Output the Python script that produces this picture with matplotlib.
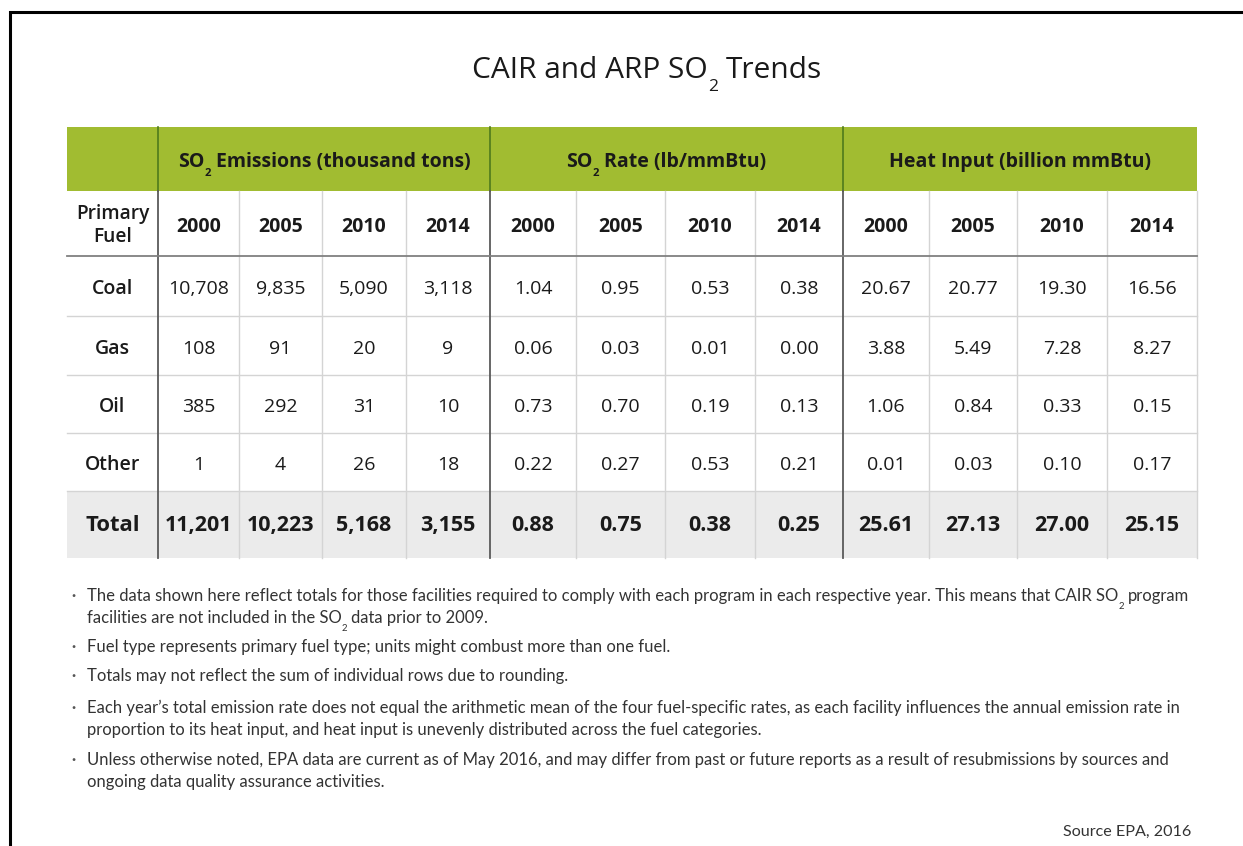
import matplotlib
matplotlib.use("Agg")
import matplotlib.pyplot as plt
from matplotlib.patches import Rectangle

# ---------------- data ----------------
# texts with subscripts are given as lists of (text, is_subscript) parts
title = [("CAIR and ARP SO", False), ("2", True), (" Trends", False)]
group_titles = [
    [("SO", False), ("2", True), (" Emissions (thousand tons)", False)],
    [("SO", False), ("2", True), (" Rate (lb/mmBtu)", False)],
    [("Heat Input (billion mmBtu)", False)],
]
years = ["2000", "2005", "2010", "2014"]
fuels = ["Coal", "Gas", "Oil", "Other"]
total_label = "Total"
first_header = "Primary\nFuel"

emissions = [[10708, 9835, 5090, 3118],
             [108, 91, 20, 9],
             [385, 292, 31, 10],
             [1, 4, 26, 18]]
emissions_total = [11201, 10223, 5168, 3155]

rates = [[1.04, 0.95, 0.53, 0.38],
         [0.06, 0.03, 0.01, 0.00],
         [0.73, 0.70, 0.19, 0.13],
         [0.22, 0.27, 0.53, 0.21]]
rates_total = [0.88, 0.75, 0.38, 0.25]

heat = [[20.67, 20.77, 19.30, 16.56],
        [3.88, 5.49, 7.28, 8.27],
        [1.06, 0.84, 0.33, 0.15],
        [0.01, 0.03, 0.10, 0.17]]
heat_total = [25.61, 27.13, 27.00, 25.15]

notes = [
    [[("The data shown here reflect totals for those facilities required to comply with each program in each respective year. This means that CAIR SO", False),
      ("2", True), (" program", False)],
     [("facilities are not included in the SO", False), ("2", True), (" data prior to 2009.", False)]],
    [[("Fuel type represents primary fuel type; units might combust more than one fuel.", False)]],
    [[("Totals may not reflect the sum of individual rows due to rounding.", False)]],
    [[("Each year\u2019s total emission rate does not equal the arithmetic mean of the four fuel-specific rates, as each facility influences the annual emission rate in", False)],
     [("proportion to its heat input, and heat input is unevenly distributed across the fuel categories.", False)]],
    [[("Unless otherwise noted, EPA data are current as of May 2016, and may differ from past or future reports as a result of resubmissions by sources and", False)],
     [("ongoing data quality assurance activities.", False)]],
]
source = "Source EPA, 2016"

# ---------------- style ----------------
TFONT = "Open Sans"
NFONT = "Lato"
GREEN = "#a1bc31"
DARKGREEN = "#4f7a1c"
GRID = "#d4d4d4"
DARK = "#5a5a5a"
TOTAL_BG = "#ebebeb"
TXT = "#1a1a1a"
NOTE_C = "#333333"
SUB_SCALE = 0.58

W, H = 1243, 846
fig = plt.figure(figsize=(W / 100, H / 100), dpi=100)
ax = fig.add_axes([0, 0, 1, 1])
ax.set_xlim(0, W)
ax.set_ylim(H, 0)
ax.axis("off")
renderer = fig.canvas.get_renderer()


def text_width(s, **kw):
    t = ax.text(0, 0, s, **kw)
    w = t.get_window_extent(renderer).width
    t.remove()
    return w


def rich_text(x, y, parts, ha="left", size=12, **kw):
    """Draw text made of parts (some subscripted) on a common baseline y (pixels)."""
    items = []
    for s, sub in parts:
        fs = size * SUB_SCALE if sub else size
        gap = 0.0
        if s.startswith(" "):
            gap = text_width("a a", fontsize=fs, **kw) - text_width("aa", fontsize=fs, **kw)
            s = s.lstrip(" ")
        w = text_width(s, fontsize=fs, **kw)
        items.append((s, fs, sub, gap, w))
    total = sum(g + w for _, _, _, g, w in items)
    if ha == "center":
        x0 = x - total / 2
    elif ha == "right":
        x0 = x - total
    else:
        x0 = x
    for s, fs, sub, gap, w in items:
        x0 += gap
        dy = (0.714 * fs * 100 / 72 + 1) if sub else 0
        ax.text(x0, y + dy, s, fontsize=fs, ha="left", va="baseline", zorder=4, **kw)
        x0 += w


# outer frame
ax.plot([10.5, 10.5, W + 5], [H + 5, 12.5, 12.5], color="black", lw=2.2, solid_joinstyle="miter")

# title
rich_text(647, 78, title, ha="center", size=21.5, family=TFONT, color=TXT)

# layout of table
col_edges = [67, 158, 239, 322, 406, 490, 576, 665, 755, 843, 929, 1017, 1107, 1197]
row_edges = [127, 191, 256, 316, 375, 433, 491, 558]
left, right = col_edges[0], col_edges[-1]
bottom = row_edges[-1]
DY = 3  # visual centring offset for text

# backgrounds
ax.add_patch(Rectangle((left, row_edges[0]), right - left, row_edges[1] - row_edges[0],
                       facecolor=GREEN, edgecolor="none", zorder=1))
ax.add_patch(Rectangle((left, row_edges[-2]), right - left, row_edges[-1] - row_edges[-2],
                       facecolor=TOTAL_BG, edgecolor="none", zorder=1))

major = {1, 5, 9}
for i, x in enumerate(col_edges):
    if i == 0:
        continue
    if i in major:
        ax.plot([x, x], [row_edges[0], row_edges[1]], color=DARKGREEN, lw=1.2, zorder=3)
        ax.plot([x, x], [row_edges[1], bottom], color=DARK, lw=1.3, zorder=3)
    else:
        ax.plot([x, x], [row_edges[1], bottom], color=GRID, lw=1.0, zorder=2)

for j, y in enumerate(row_edges):
    if j in (0, 1, len(row_edges) - 1):
        continue
    if j == 2:
        ax.plot([left, right], [y, y], color="#808080", lw=1.3, zorder=3)
    else:
        ax.plot([left, right], [y, y], color=GRID, lw=1.0, zorder=2)


def cx(i):
    return (col_edges[i] + col_edges[i + 1]) / 2


def cy(j):
    return (row_edges[j] + row_edges[j + 1]) / 2


# group headers
for g, gt in enumerate(group_titles):
    x0 = col_edges[1 + 4 * g]
    x1 = col_edges[5 + 4 * g]
    rich_text((x0 + x1) / 2, 167, gt, ha="center", size=14,
              family=TFONT, weight="bold", color=TXT)

# year header row
ax.text(cx(0), cy(1) + 2, first_header, ha="center", va="center", fontsize=13.8,
        family=TFONT, weight="semibold", color=TXT, linespacing=1.25, zorder=4)
for g in range(3):
    for k, yr in enumerate(years):
        ax.text(cx(1 + 4 * g + k), cy(1) + DY, yr, ha="center", va="center", fontsize=14,
                family=TFONT, weight="bold", color=TXT, zorder=4)


def fmt_em(v):
    return f"{v:,}"


def fmt2(v):
    return f"{v:.2f}"


# body rows
for r, fuel in enumerate(fuels):
    y = cy(2 + r) + DY
    ax.text(cx(0), y, fuel, ha="center", va="center", fontsize=14,
            family=TFONT, weight="semibold", color=TXT, zorder=4)
    for k in range(4):
        ax.text(cx(1 + k), y, fmt_em(emissions[r][k]), ha="center", va="center",
                fontsize=14, family=TFONT, color=TXT, zorder=4)
        ax.text(cx(5 + k), y, fmt2(rates[r][k]), ha="center", va="center",
                fontsize=14, family=TFONT, color=TXT, zorder=4)
        ax.text(cx(9 + k), y, fmt2(heat[r][k]), ha="center", va="center",
                fontsize=14, family=TFONT, color=TXT, zorder=4)

# total row
y = cy(6) + 1
ax.text(cx(0), y, total_label, ha="center", va="center", fontsize=15.8,
        family=TFONT, weight="bold", color=TXT, zorder=4)
for k in range(4):
    ax.text(cx(1 + k), y, fmt_em(emissions_total[k]), ha="center", va="center",
            fontsize=15.5, family=TFONT, weight="bold", color=TXT, zorder=4)
    ax.text(cx(5 + k), y, fmt2(rates_total[k]), ha="center", va="center",
            fontsize=15.5, family=TFONT, weight="bold", color=TXT, zorder=4)
    ax.text(cx(9 + k), y, fmt2(heat_total[k]), ha="center", va="center",
            fontsize=15.5, family=TFONT, weight="bold", color=TXT, zorder=4)

# notes (baselines in pixels)
note_baselines = [601, 652, 681, 713, 765]
line_gap = 22
for base, lines in zip(note_baselines, notes):
    ax.text(73, base - 5, "\u00b7", ha="center", va="center", fontsize=11, family=NFONT,
            color="#555555", weight="bold")
    for li, parts in enumerate(lines):
        rich_text(87, base + li * line_gap, parts, ha="left", size=12,
                  family=NFONT, color=NOTE_C)

ax.text(1191, 836, source, ha="right", va="baseline", fontsize=11.6, family=NFONT, color=NOTE_C)

fig.savefig("out.png", dpi=100, facecolor="white")
